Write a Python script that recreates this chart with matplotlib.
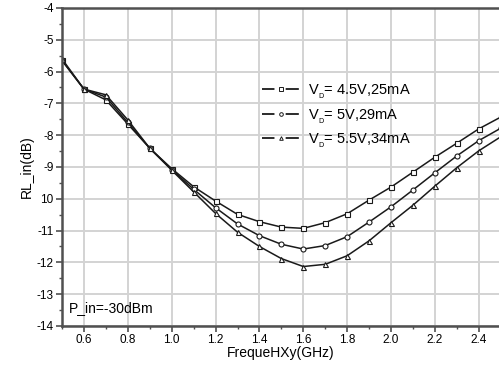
import matplotlib
matplotlib.use("Agg")
import matplotlib.pyplot as plt
from matplotlib.lines import Line2D
from matplotlib.ticker import MultipleLocator, FixedLocator

plt.rcParams['font.family'] = ['Liberation Sans', 'DejaVu Sans']
plt.rcParams['mathtext.fontset'] = 'custom'
plt.rcParams['mathtext.rm'] = 'Liberation Sans'

freq = [0.5, 0.6, 0.7, 0.8, 0.9, 1.0, 1.1, 1.2, 1.3, 1.4, 1.5,
        1.6, 1.7, 1.8, 1.9, 2.0, 2.1, 2.2, 2.3, 2.4, 2.5]
rl_45v = [-5.65, -6.55, -6.89, -7.65, -8.41, -9.05, -9.62, -10.07, -10.49, -10.72, -10.89,
          -10.93, -10.75, -10.47, -10.04, -9.63, -9.16, -8.69, -8.25, -7.8, -7.43]
rl_5v = [-5.65, -6.55, -6.80, -7.60, -8.41, -9.08, -9.70, -10.28, -10.79, -11.16, -11.43,
         -11.58, -11.47, -11.19, -10.73, -10.25, -9.72, -9.18, -8.65, -8.17, -7.78]
rl_55v = [-5.60, -6.55, -6.73, -7.52, -8.41, -9.10, -9.78, -10.46, -11.05, -11.5, -11.88,
          -12.13, -12.06, -11.79, -11.32, -10.75, -10.2, -9.6, -9.02, -8.49, -8.05]
labels = ["V$_{_\\mathregular{D}}$= 4.5V,25mA",
          "V$_{_\\mathregular{D}}$= 5V,29mA",
          "V$_{_\\mathregular{D}}$= 5.5V,34mA"]
markers = ['s', 'o', '^']
y_ticks = [-4, -5, -6, -7, -8, -9, -10, -11, -12, -13, -14]
y_ticklabels = ["-4", "-5", "-6", "-7", "-8", "-9", "10", "-11", "-12", "-13", "-14"]
x_ticks = [0.6, 0.8, 1.0, 1.2, 1.4, 1.6, 1.8, 2.0, 2.2, 2.4]

fig = plt.figure(figsize=(4.99, 3.70), dpi=100)
ax = fig.add_axes([62 / 499, 1 - 326 / 370, 437 / 499, 318 / 370])

col = "#1a1a1a"
for series, m in zip([rl_45v, rl_5v, rl_55v], markers):
    ax.plot(freq, series, color=col, lw=1.1, marker=m, ms=3.6, mfc='white', mew=0.8)

ax.set_xlim(0.5, 2.492)
ax.set_ylim(-14, -4)
ax.xaxis.set_major_locator(FixedLocator(x_ticks))
ax.xaxis.set_minor_locator(MultipleLocator(0.1))
ax.set_yticks(y_ticks)
ax.set_yticklabels(y_ticklabels)
ax.yaxis.set_minor_locator(MultipleLocator(0.5))
ax.grid(True, which='major', color='#d3d3d3', lw=1.4)
ax.set_axisbelow(True)

for s in ['left', 'bottom', 'top']:
    ax.spines[s].set_color('#505050')
    ax.spines[s].set_linewidth(1.8)
ax.spines['right'].set_visible(False)
ax.tick_params(which='major', direction='out', length=4, width=1.2, color='#505050',
               labelsize=8.5, pad=2)
ax.tick_params(which='minor', direction='out', length=2.5, width=1.0, color='#505050')

ax.set_xlabel("FrequeHXy(GHz)", fontsize=10, labelpad=0)
ax.set_ylabel("RL_in(dB)", fontsize=10, labelpad=2)

ax.text(0.53, -13.55, "P_in=-30dBm", fontsize=10)

# legend handles: short line, gap with small marker, line
handles = []
for m in markers:
    seg = Line2D([], [], color=col, lw=1.3, linestyle=(0, (6.9, 6.2, 7.3, 100)))
    mk = Line2D([], [], color=col, lw=0, marker=m, ms=2.6, mfc='white', mew=0.7)
    handles.append((seg, mk))
ax.legend(handles, labels, loc='upper left', bbox_to_anchor=(0.445, 0.784), frameon=False,
          fontsize=10.5, handlelength=2.5, handletextpad=0.6, labelspacing=0.4,
          borderaxespad=0)

fig.savefig("out.png", dpi=100)
